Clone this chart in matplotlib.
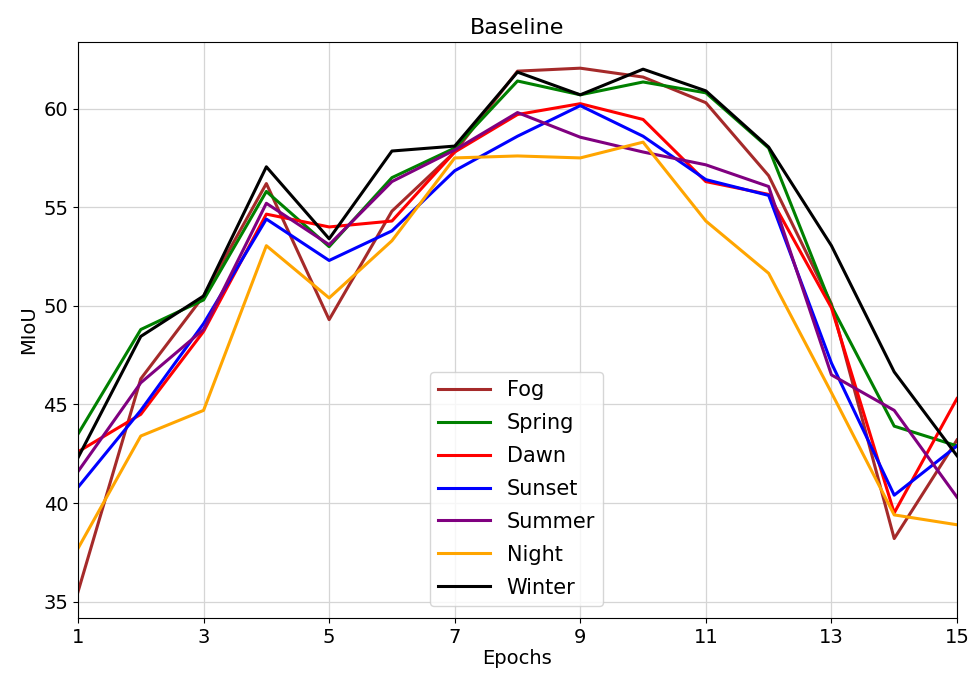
import numpy as np
import matplotlib
matplotlib.use('Agg')
import matplotlib.pyplot as plt

epochs = list(range(1, 16))

fog = [35.5, 46.3, 50.5, 56.2, 49.3, 54.8, 57.8, 61.9, 62.05, 61.6, 60.3, 56.6, 50.1, 38.2, 43.2]
spring = [43.5, 48.8, 50.3, 55.8, 53.0, 56.5, 58.0, 61.4, 60.7, 61.35, 60.8, 58.0, 50.0, 43.9, 42.9]
dawn = [42.6, 44.5, 48.7, 54.65, 54.0, 54.3, 57.8, 59.7, 60.25, 59.45, 56.3, 55.65, 49.9, 39.5, 45.3]
sunset = [40.8, 44.7, 49.1, 54.4, 52.3, 53.8, 56.85, 58.6, 60.15, 58.6, 56.4, 55.6, 47.1, 40.4, 42.9]
summer = [41.6, 46.1, 48.8, 55.2, 53.1, 56.3, 57.9, 59.8, 58.55, 57.8, 57.15, 56.05, 46.5, 44.7, 40.3]
night = [37.7, 43.4, 44.7, 53.05, 50.4, 53.3, 57.5, 57.6, 57.5, 58.3, 54.3, 51.65, 45.6, 39.4, 38.9]
winter = [42.3, 48.45, 50.5, 57.05, 53.4, 57.85, 58.1, 61.85, 60.7, 62.0, 60.9, 58.05, 53.05, 46.65, 42.4]

series = [('Fog', fog, 'brown'), ('Spring', spring, 'green'), ('Dawn', dawn, 'red'),
          ('Sunset', sunset, 'blue'), ('Summer', summer, 'purple'), ('Night', night, 'orange'),
          ('Winter', winter, 'black')]

fig = plt.figure(figsize=(9.69, 6.77), dpi=100)
ax = fig.add_axes([78/969, 1 - 618/677, 879/969, 576/677])
for name, vals, c in series:
    ax.plot(epochs, vals, color=c, linewidth=2.2, label=name)

ax.set_xlim(1, 15)
ax.set_xticks(range(1, 16, 2))
ax.grid(True, color='#d5d5d5', linewidth=0.9)
ax.tick_params(labelsize=14)
ax.set_xlabel('Epochs', fontsize=14, labelpad=2)
ax.set_ylabel('MIoU', fontsize=14)
ax.set_title('Baseline', fontsize=16)
ax.legend(loc='lower left', bbox_to_anchor=(0.40, 0.021), borderaxespad=0, fontsize=15,
          handlelength=2.5, labelspacing=0.62)

plt.savefig('out.png', dpi=100)
